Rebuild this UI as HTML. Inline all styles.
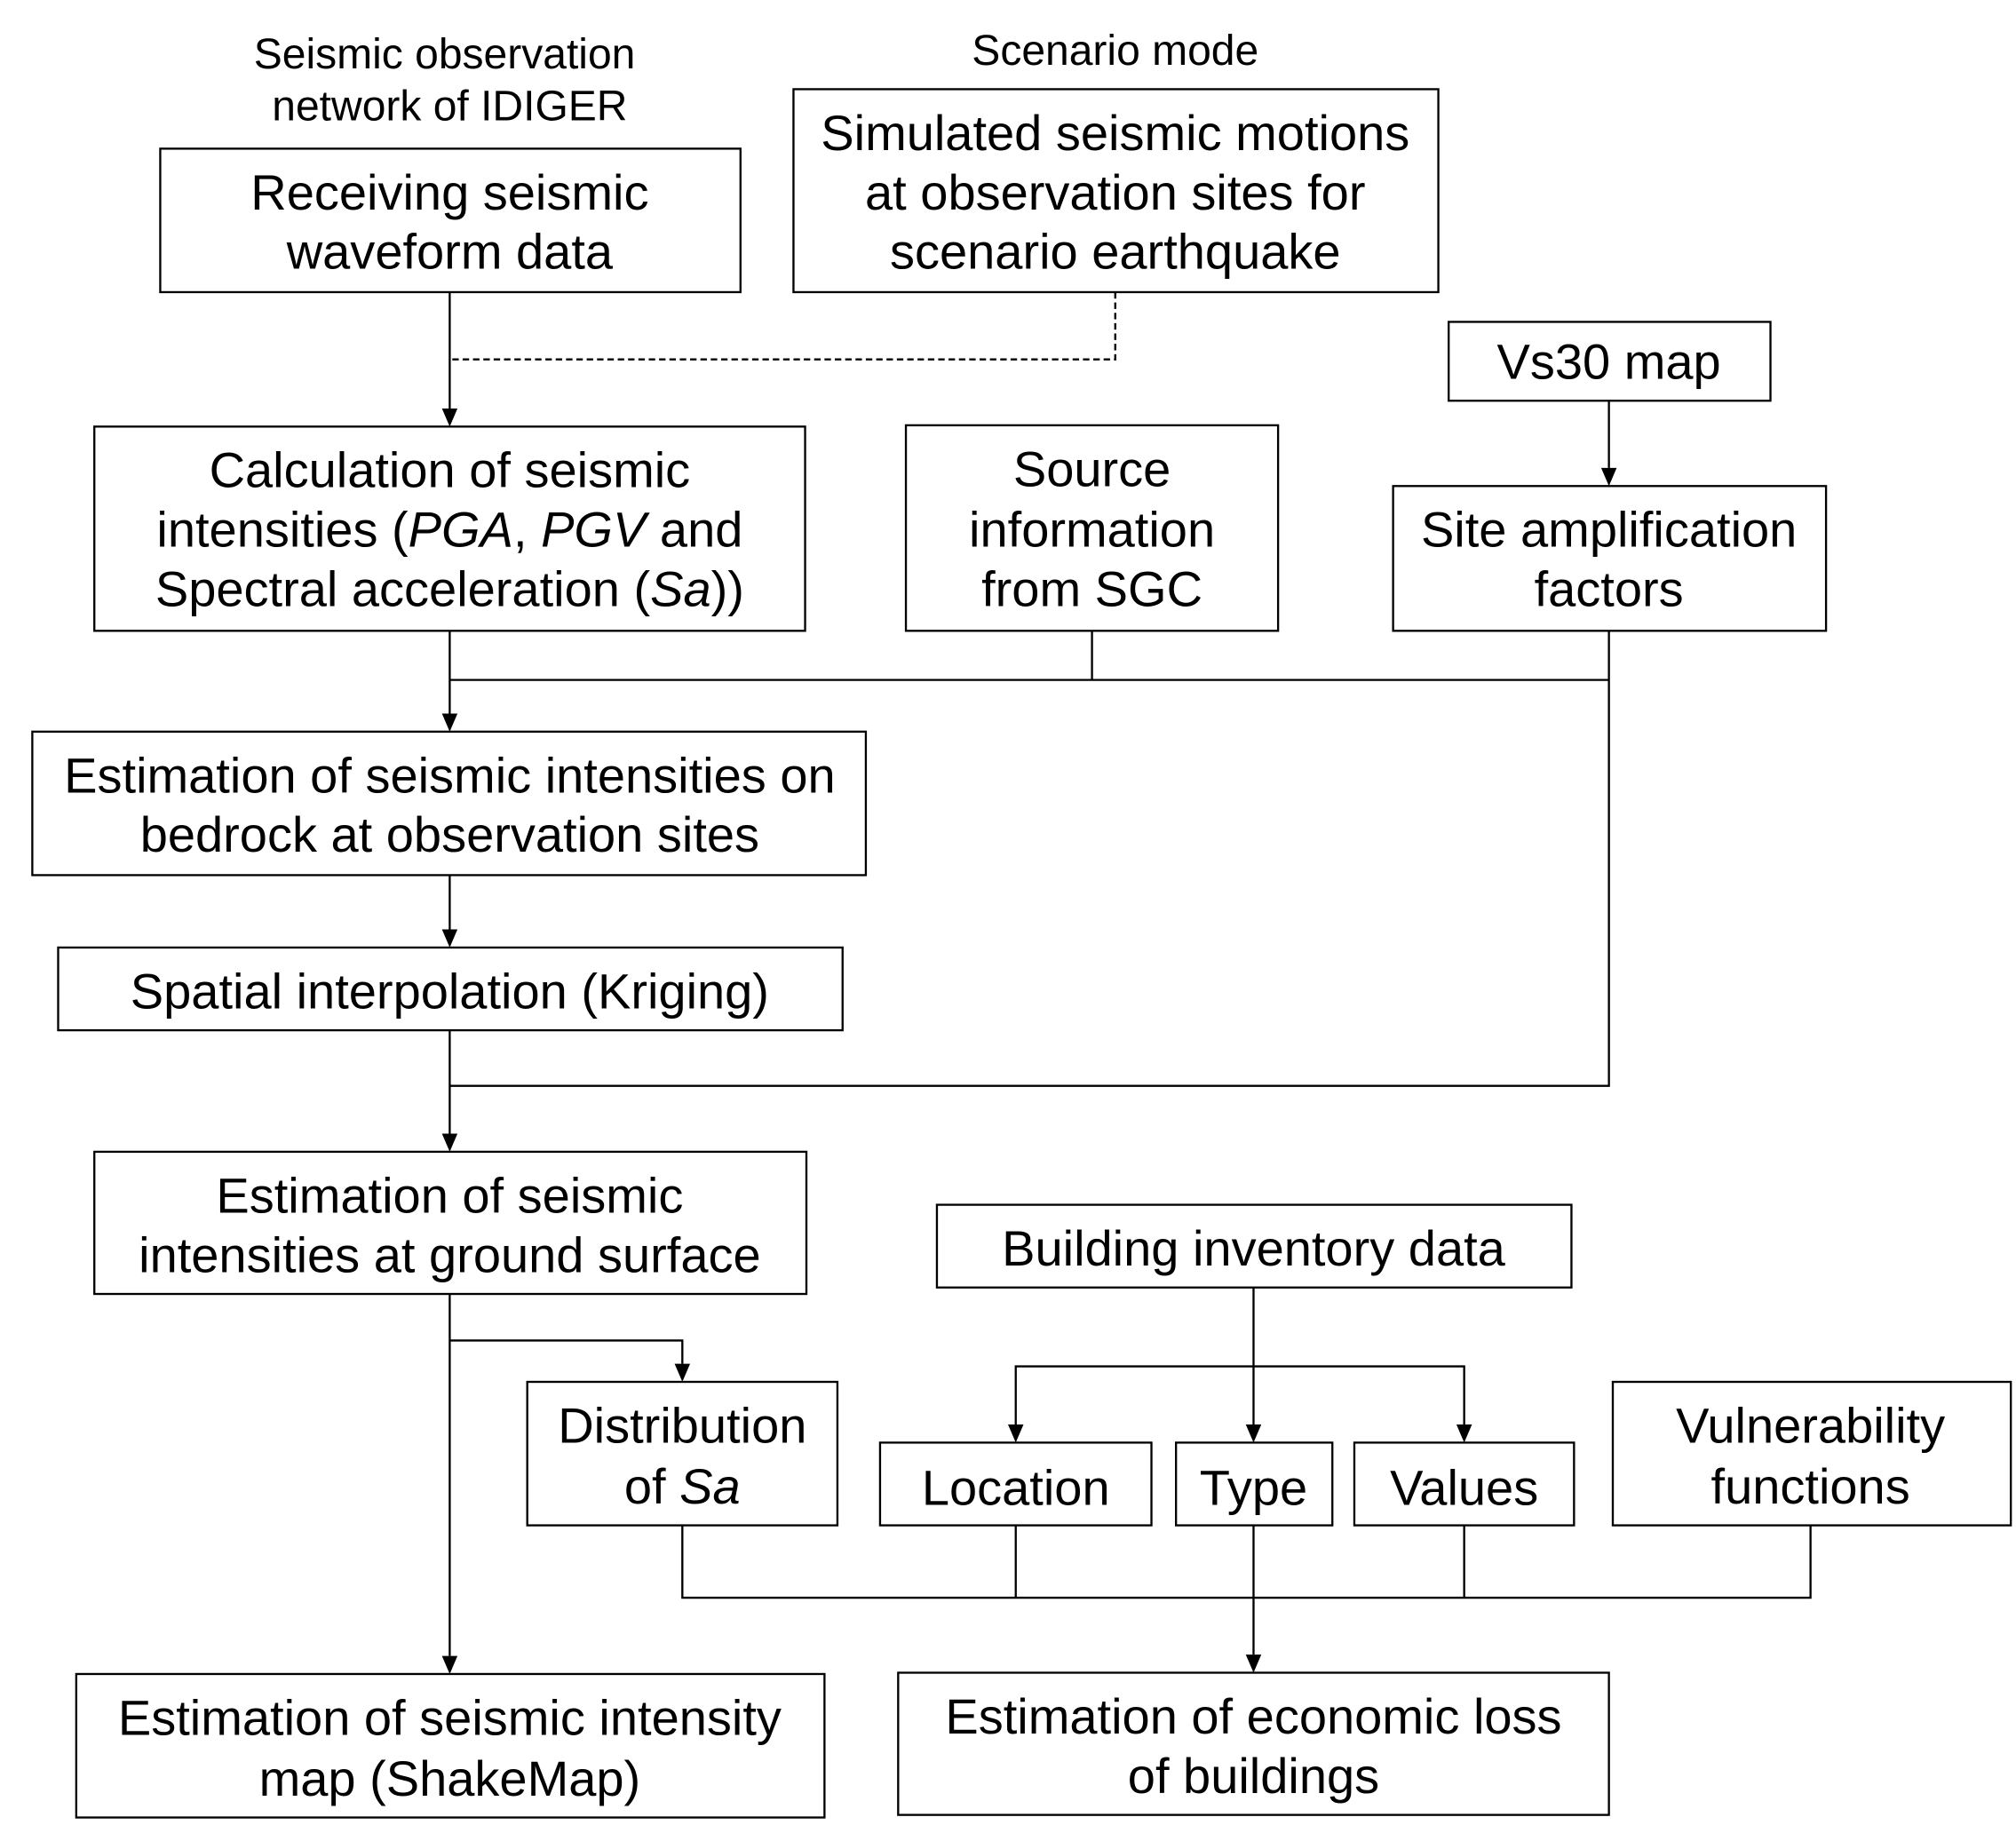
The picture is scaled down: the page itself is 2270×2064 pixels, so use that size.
<!DOCTYPE html>
<html><head><meta charset="utf-8"><style>html,body{margin:0;padding:0;background:#fff}svg{display:block}</style></head>
<body>
<svg width="2270" height="2064" viewBox="0 0 1560 1418" preserveAspectRatio="none" xmlns="http://www.w3.org/2000/svg" font-family="Liberation Sans, Arial, sans-serif" fill="#000">
<g fill="none" stroke="#000" stroke-width="1.6">
<rect x="124" y="115" width="449" height="111"/>
<rect x="614" y="69" width="499" height="157"/>
<rect x="1121" y="249" width="249" height="61"/>
<rect x="73" y="330" width="550" height="158"/>
<rect x="701" y="329" width="288" height="159"/>
<rect x="1078" y="376" width="335" height="112"/>
<rect x="25" y="566" width="645" height="111"/>
<rect x="45" y="733" width="607" height="64"/>
<rect x="73" y="891" width="551" height="110"/>
<rect x="725" y="932" width="491" height="64"/>
<rect x="408" y="1069" width="240" height="111"/>
<rect x="681" y="1116" width="210" height="64"/>
<rect x="910" y="1116" width="121" height="64"/>
<rect x="1048" y="1116" width="170" height="64"/>
<rect x="1248" y="1069" width="308" height="111"/>
<rect x="59" y="1295" width="579" height="111"/>
<rect x="695" y="1294" width="550" height="110"/>
<path d="M348 226V316"/>
<path d="M863 226V278H348" stroke-dasharray="5,3"/>
<path d="M1245 310V362"/>
<path d="M348 488V552"/>
<path d="M348 526H1245M845 488V526M1245 488V840H348"/>
<path d="M348 677V719"/>
<path d="M348 797V877"/>
<path d="M348 1001V1281"/>
<path d="M348 1037H528V1055"/>
<path d="M970 996V1102"/>
<path d="M786 1102V1057H1133V1102"/>
<path d="M528 1180V1236H1401V1180M786 1180V1236M1133 1180V1236"/>
<path d="M970 1180V1280"/>
</g>
<g>
<path d="M342 316h12l-6 14z"/>
<path d="M1239 362h12l-6 14z"/>
<path d="M342 552h12l-6 14z"/>
<path d="M342 719h12l-6 14z"/>
<path d="M342 877h12l-6 14z"/>
<path d="M342 1281h12l-6 14z"/>
<path d="M522 1055h12l-6 14z"/>
<path d="M964 1102h12l-6 14z"/>
<path d="M780 1102h12l-6 14z"/>
<path d="M1127 1102h12l-6 14z"/>
<path d="M964 1280h12l-6 14z"/>
</g>
<g text-anchor="middle" font-size="33">
<text x="344" y="53">Seismic observation</text>
<text x="348" y="93">network of IDIGER</text>
<text x="863" y="50">Scenario mode</text>
</g>
<g text-anchor="middle" font-size="38.5">
<text x="348" y="162">Receiving seismic</text>
<text x="348" y="208">waveform data</text>
<text x="863" y="116">Simulated seismic motions</text>
<text x="863" y="162">at observation sites for</text>
<text x="863" y="208">scenario earthquake</text>
<text x="1245" y="293">Vs30 map</text>
<text x="348" y="377">Calculation of seismic</text>
<text x="348" y="423">intensities (<tspan font-style="italic">PGA</tspan>, <tspan font-style="italic">PGV</tspan> and</text>
<text x="348" y="469">Spectral acceleration (<tspan font-style="italic">Sa</tspan>))</text>
<text x="845" y="376">Source</text>
<text x="845" y="423">information</text>
<text x="845" y="469">from SGC</text>
<text x="1245" y="423">Site amplification</text>
<text x="1245" y="469">factors</text>
<text x="348" y="613">Estimation of seismic intensities on</text>
<text x="348" y="659">bedrock at observation sites</text>
<text x="348" y="780">Spatial interpolation (Kriging)</text>
<text x="348" y="938">Estimation of seismic</text>
<text x="348" y="984">intensities at ground surface</text>
<text x="970" y="979">Building inventory data</text>
<text x="528" y="1116">Distribution</text>
<text x="528" y="1163">of <tspan font-style="italic">Sa</tspan></text>
<text x="786" y="1164">Location</text>
<text x="970" y="1164">Type</text>
<text x="1133" y="1164">Values</text>
<text x="1401" y="1116">Vulnerability</text>
<text x="1401" y="1163">functions</text>
<text x="348" y="1342">Estimation of seismic intensity</text>
<text x="348" y="1389">map (ShakeMap)</text>
<text x="970" y="1341">Estimation of economic loss</text>
<text x="970" y="1387">of buildings</text>
</g>
</svg>
</body></html>
